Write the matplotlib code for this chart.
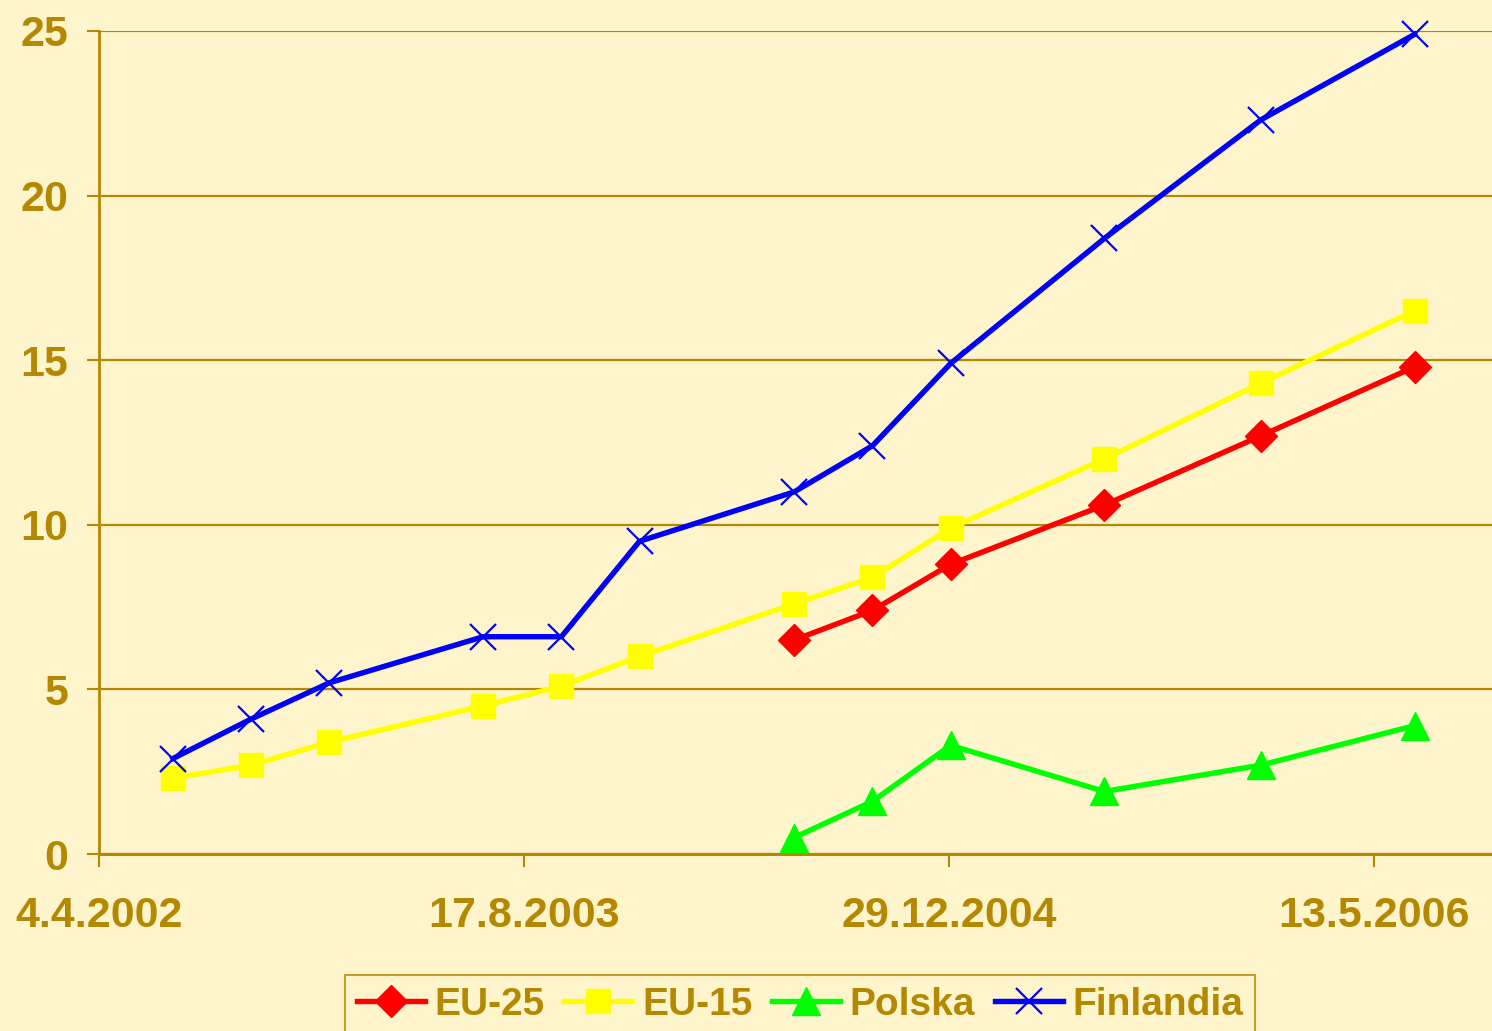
import matplotlib
matplotlib.use("Agg")
import matplotlib.pyplot as plt
import matplotlib.dates as mdates
import numpy as np
import datetime as dt

# ---- data ----
dates = ["2002-06-30", "2002-09-30", "2002-12-31", "2003-06-30", "2003-09-30", "2003-12-31",
         "2004-06-30", "2004-09-30", "2004-12-31", "2005-06-30", "2005-12-31", "2006-06-30"]
finlandia = [2.9, 4.1, 5.2, 6.6, 6.6, 9.5, 11.0, 12.4, 14.9, 18.7, 22.3, 24.9]
eu15 = [2.3, 2.7, 3.4, 4.5, 5.1, 6.0, 7.6, 8.4, 9.9, 12.0, 14.3, 16.5]
eu25 = [None, None, None, None, None, None, 6.5, 7.4, 8.8, 10.6, 12.7, 14.8]
polska = [None, None, None, None, None, None, 0.5, 1.6, 3.3, 1.9, 2.7, 3.9]
tick_dates = ["2002-04-04", "2003-08-17", "2004-12-29", "2006-05-13"]
tick_labels = ["4.4.2002", "17.8.2003", "29.12.2004", "13.5.2006"]
y_ticks = [0, 5, 10, 15, 20, 25]

BG = "#FFF5CC"
GOLD = "#B48800"

plt.rcParams['font.family'] = ['Liberation Sans', 'DejaVu Sans']
plt.rcParams['font.weight'] = 'bold'

fig = plt.figure(figsize=(14.92, 10.31), dpi=100, facecolor=BG)
ax = fig.add_axes([99/1492, (1031-854)/1031, 1 - 99/1492, (854-31)/1031])
ax.set_facecolor(BG)

x = mdates.date2num([dt.date.fromisoformat(d) for d in dates])

def arr(v):
    return np.array([np.nan if a is None else a for a in v], dtype=float)

lw = 3.9
ax.plot(x, arr(eu25), color="#FF0000", lw=lw, marker="D", ms=16, mec="#FF0000", label="EU-25", zorder=4, clip_on=False)
ax.plot(x, arr(eu15), color="#FFFF00", lw=lw, marker="s", ms=17, mec="#FFFF00", label="EU-15", zorder=3, clip_on=False)
ax.plot(x, arr(polska), color="#00FF00", lw=lw, marker="^", ms=20, mec="#00FF00", label="Polska", zorder=4, clip_on=False)
ax.plot(x, arr(finlandia), color="#0000FF", lw=lw, marker="x", ms=19, mew=1.6, mec="#0000FF", label="Finlandia", zorder=5, clip_on=False)

start = mdates.date2num(dt.date(2002, 4, 4))
ax.set_xlim(start, start + 1639)
ax.set_ylim(0, 25)

tx = mdates.date2num([dt.date.fromisoformat(d) for d in tick_dates])
ax.set_xticks(tx)
ax.set_xticklabels(tick_labels)
ax.set_yticks(y_ticks)
ax.set_yticklabels([str(v) for v in y_ticks])

ax.tick_params(axis='both', colors=GOLD, labelcolor=GOLD, labelsize=31, direction='out',
               length=9, width=1.5)
ax.tick_params(axis='x', pad=21)
ax.tick_params(axis='y', pad=13)

ax.yaxis.grid(True, color=GOLD, lw=1.6)
ax.set_axisbelow(True)

for s in ['top', 'right']:
    ax.spines[s].set_visible(False)
ax.spines['left'].set_color(GOLD)
ax.spines['left'].set_linewidth(2.0)
ax.spines['bottom'].set_color(GOLD)
ax.spines['bottom'].set_linewidth(2.2)

leg = fig.legend(loc='upper center', bbox_to_anchor=(800/1492, (1031-975)/1031), ncol=4,
                 frameon=True, fancybox=False, facecolor=BG, edgecolor=GOLD,
                 prop={'size': 28, 'weight': 'bold'}, handlelength=1.75, handletextpad=0.25,
                 columnspacing=0.5, borderpad=0.3, borderaxespad=0)
leg.get_frame().set_linewidth(1.5)
for t in leg.get_texts():
    t.set_color(GOLD)

fig.savefig("out.png", dpi=100, facecolor=BG)
